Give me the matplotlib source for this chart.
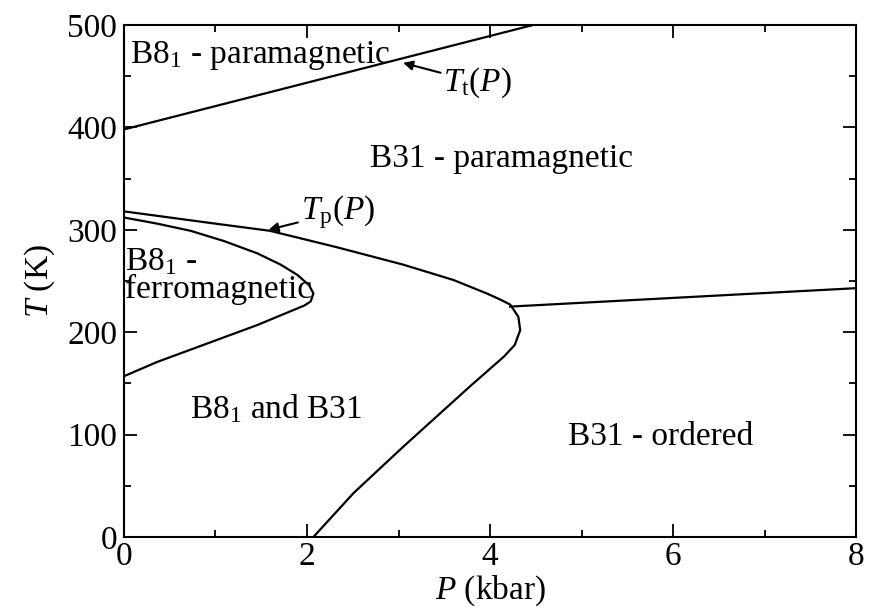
import numpy as np
import matplotlib
matplotlib.use("Agg")
import matplotlib.pyplot as plt

# phase boundaries
# T_t(P): B8_1 -> B31 transition
tt_P = [0.0, 4.47]
tt_T = [398, 500]

# T_p(P) outer boundary, upper branch round the nose down to T=0
tp_P = [0.0, 0.5, 1.0, 1.596, 2.325, 3.05, 3.60, 3.96, 4.11, 4.22, 4.31, 4.33, 4.27, 4.15, 3.78, 3.05, 2.51, 2.07]
tp_T = [318, 312, 306, 299, 283, 266, 251, 238, 232, 227, 215, 202, 187.5, 176, 147, 88, 43, 0]

# ferromagnetic pocket of B8_1
fm_P = [0.0, 0.364, 0.729, 1.093, 1.457, 1.712, 1.894, 2.022, 2.07, 2.04, 1.97, 1.457, 0.729, 0.364, 0.0]
fm_T = [312, 306, 299, 289, 277, 266, 256, 246, 238, 230, 226, 207, 183, 171, 157]

# ordering line on the right
ord_P = [4.22, 8.0]
ord_T = [225, 243]

plt.rcParams['font.family'] = ['Liberation Serif', 'DejaVu Serif']
plt.rcParams['mathtext.fontset'] = 'custom'
plt.rcParams['mathtext.rm'] = 'Liberation Serif'
plt.rcParams['mathtext.it'] = 'Liberation Serif:italic'
fs = 24

fig = plt.figure(figsize=(8.78, 6.13), dpi=100)
ax = fig.add_axes([0.1412, 0.124, 0.8338, 0.8352])

lw = 1.6
ax.plot(tt_P, tt_T, color='k', lw=lw)
ax.plot(tp_P, tp_T, color='k', lw=lw, solid_joinstyle='round')
ax.plot(fm_P, fm_T, color='k', lw=lw, solid_joinstyle='round')
ax.plot(ord_P, ord_T, color='k', lw=lw)

ax.set_xlim(0, 8)
ax.set_ylim(0, 500)
ax.set_xticks([0, 2, 4, 6, 8])
ax.set_xticks([1, 3, 5, 7], minor=True)
ax.set_yticks([0, 100, 200, 300, 400, 500])
ax.set_yticks([50, 150, 250, 350, 450], minor=True)
ax.tick_params(which='both', direction='in', top=True, right=True, labelsize=fs, width=1.3)
ax.tick_params(which='major', length=9.5, pad=3)
ax.tick_params(which='minor', length=5)
ax.tick_params(axis='y', which='major', pad=5)
for s in ax.spines.values():
    s.set_linewidth(1.5)

ax.set_xlabel(r'$P$ (kbar)', fontsize=fs, labelpad=1)
ax.set_ylabel(r'$T$ (K)', fontsize=fs, labelpad=7)

# region labels
ax.text(0.07, 463, r'B8$_1$ - paramagnetic', fontsize=fs)
ax.text(2.69, 361, 'B31 - paramagnetic', fontsize=fs)
ax.text(0.01, 261, r'B8$_1$ -', fontsize=fs)
ax.text(0.01, 233, 'ferromagnetic', fontsize=fs)
ax.text(0.72, 116, r'B8$_1$ and B31', fontsize=fs)
ax.text(4.85, 90, 'B31 - ordered', fontsize=fs)

arrow = dict(arrowstyle='-|>', color='k', lw=1.5, mutation_scale=14, shrinkA=0, shrinkB=0)
ax.annotate(r'$T_{\rm t}(P)$', xy=(3.05, 463), xytext=(3.49, 436), fontsize=fs,
            arrowprops=arrow, va='baseline', ha='left')
ax.annotate(r'$T_{\rm p}(P)$', xy=(1.58, 300), xytext=(1.93, 310), fontsize=fs,
            arrowprops=arrow, va='baseline', ha='left')

fig.savefig('out.png', dpi=100)
